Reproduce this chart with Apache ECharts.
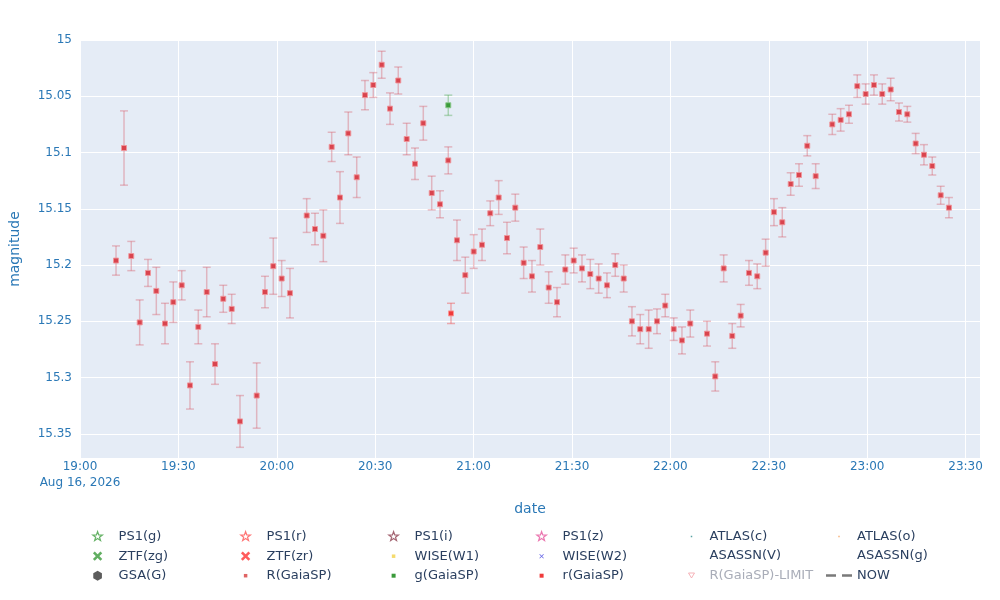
<!DOCTYPE html>
<html>
<head>
<meta charset="utf-8">
<title>light curve</title>
<script src="https://cdn.jsdelivr.net/npm/echarts@6/dist/echarts.min.js"></script>
<style>
  html, body { margin: 0; padding: 0; background: #fff; }
  #chart { width: 1000px; height: 600px; }
</style>
</head>
<body>
<div id="chart"></div>
<script>
// R(GaiaSP) photometry, times on 2026-08-16 (UT)
const rTimes = [
  '19:10:59', '19:13:25', '19:15:38', '19:18:12', '19:20:44', '19:23:16', '19:25:55',
  '19:28:27', '19:31:01', '19:33:32', '19:36:04', '19:38:38', '19:41:10', '19:43:41',
  '19:46:15', '19:48:47', '19:53:52', '19:56:24', '19:58:56', '20:01:29', '20:04:01',
  '20:09:07', '20:11:39', '20:14:11', '20:16:44', '20:19:16', '20:21:48', '20:24:22',
  '20:26:53', '20:29:25', '20:31:59', '20:34:31', '20:37:02', '20:39:36', '20:42:08',
  '20:44:40', '20:47:14', '20:49:46', '20:52:17', '20:54:56', '20:57:28', '21:00:02',
  '21:02:34', '21:05:05', '21:07:39',
  '21:10:11', '21:12:43', '21:15:16', '21:17:48', '21:20:20', '21:22:54', '21:25:26',
  '21:27:58', '21:30:31', '21:33:03', '21:35:35', '21:38:08', '21:40:40', '21:43:12',
  '21:45:46', '21:48:17', '21:50:49', '21:53:23', '21:55:55', '21:58:26', '22:01:01',
  '22:03:32', '22:06:04', '22:11:10', '22:13:41', '22:16:15',
  '22:18:52', '22:21:26', '22:23:58', '22:26:29', '22:29:03', '22:31:35', '22:34:07',
  '22:36:41', '22:39:13', '22:41:44', '22:44:18', '22:49:22', '22:51:55', '22:54:27',
  '22:56:59', '22:59:32', '23:02:04', '23:04:36', '23:07:10', '23:09:42', '23:12:14',
  '23:14:47', '23:17:19', '23:19:51', '23:22:25', '23:24:56'
];
const rMags = [
  15.196, 15.096, 15.192, 15.251, 15.207, 15.223, 15.252,
  15.233, 15.218, 15.307, 15.255, 15.224, 15.288, 15.230,
  15.239, 15.339, 15.316, 15.224, 15.201, 15.212, 15.225,
  15.156, 15.168, 15.174, 15.095, 15.140, 15.083, 15.122,
  15.049, 15.040, 15.022, 15.061, 15.036, 15.088, 15.110,
  15.074, 15.136, 15.146, 15.107, 15.178, 15.209, 15.188,
  15.182, 15.154, 15.140,
  15.176, 15.149, 15.198, 15.210, 15.184, 15.220, 15.233,
  15.204, 15.196, 15.203, 15.208, 15.212, 15.218, 15.200,
  15.212, 15.250, 15.257, 15.257, 15.250, 15.236, 15.257,
  15.267, 15.252, 15.261, 15.299, 15.203,
  15.263, 15.245, 15.207, 15.210, 15.189, 15.153, 15.162,
  15.128, 15.120, 15.094, 15.121, 15.075, 15.071, 15.066,
  15.041, 15.048, 15.040, 15.048, 15.044, 15.064, 15.066,
  15.092, 15.102, 15.112, 15.138, 15.149
];
const rErrs = [
  0.013, 0.033, 0.013, 0.020, 0.012, 0.021, 0.018,
  0.018, 0.013, 0.021, 0.015, 0.022, 0.018, 0.012,
  0.013, 0.023, 0.029, 0.014, 0.025, 0.016, 0.022,
  0.015, 0.014, 0.023, 0.013, 0.023, 0.019, 0.018,
  0.013, 0.011, 0.012, 0.014, 0.012, 0.014, 0.014,
  0.015, 0.015, 0.012, 0.012, 0.018, 0.016, 0.015,
  0.014, 0.011, 0.015,
  0.014, 0.012, 0.014, 0.014, 0.016, 0.014, 0.013,
  0.013, 0.011, 0.012, 0.013, 0.013, 0.011, 0.010,
  0.012, 0.013, 0.013, 0.017, 0.011, 0.010, 0.010,
  0.012, 0.012, 0.011, 0.013, 0.012,
  0.011, 0.010, 0.011, 0.011, 0.012, 0.012, 0.013,
  0.010, 0.010, 0.009, 0.011, 0.009, 0.010, 0.008,
  0.010, 0.009, 0.009, 0.009, 0.010, 0.008, 0.007,
  0.009, 0.009, 0.008, 0.008, 0.009
];

// g(GaiaSP) and r(GaiaSP): one point each
const gTimes = ['20:52:17'];
const gMags = [15.058];
const gErrs = [0.009];
const rsTimes = ['20:53:07'];
const rsMags = [15.243];
const rsErrs = [0.009];

const xStart = '19:00:00';
const xEnd = '23:34:24';
const dateLabel = 'Aug 16, 2026';

// legend columns, top to bottom
const legendCols = [
  ['PS1(g)', 'ZTF(zg)', 'GSA(G)'],
  ['PS1(r)', 'ZTF(zr)', 'R(GaiaSP)'],
  ['PS1(i)', 'WISE(W1)', 'g(GaiaSP)'],
  ['PS1(z)', 'WISE(W2)', 'r(GaiaSP)'],
  ['ATLAS(c)', 'ASASSN(V)', 'R(GaiaSP)-LIMIT'],
  ['ATLAS(o)', 'ASASSN(g)', 'NOW']
];

function toMs(t) {
  const [h, m, s] = t.split(':').map(Number);
  return Date.UTC(2026, 7, 16, h, m, s);
}

function pad(n) {
  return n < 10 ? '0' + n : '' + n;
}

// icons drawn in a 24x24 box (the leading moves keep the box size)
const BOX = 'path://M0,0M24,24';
const STAR = BOX + 'M12,2L14.35,8.76L21.51,8.91L15.8,13.24L17.88,20.09L12,16L6.12,20.09L8.2,13.24L2.49,8.91L9.65,8.76Z';
const XBIG = BOX + 'M6.34,2.66L21.34,17.66L17.66,21.34L2.66,6.34Z' +
  'M17.66,2.66L21.34,6.34L6.34,21.34L2.66,17.66Z';
const XSMALL = BOX + 'M8.5,7.5L12,11L15.5,7.5L16.5,8.5L13,12L16.5,15.5L15.5,16.5L12,13L8.5,16.5L7.5,15.5L11,12L7.5,8.5Z';
const HEX = BOX + 'M12,2L20.66,7L20.66,17L12,22L3.34,17L3.34,7Z';
const SQ_SMALL = BOX + 'M8.5,8.5h7v7h-7Z';
const SQ = BOX + 'M8,8h8v8h-8Z';
const DOT = BOX + 'M10.5,10.5h3v3h-3Z';
const TRI = BOX + 'M6,7L18,7L12,17Z';
const DASH = 'path://M0,0h10v2.5H0ZM16,0h10v2.5h-10Z';

const legendStyles = {
  'PS1(g)': { icon: STAR, itemStyle: { color: 'transparent', borderColor: '#3d9e3d', borderWidth: 1.2 } },
  'PS1(r)': { icon: STAR, itemStyle: { color: 'transparent', borderColor: '#ff5050', borderWidth: 1.2 } },
  'PS1(i)': { icon: STAR, itemStyle: { color: 'transparent', borderColor: '#8c3d4d', borderWidth: 1.2 } },
  'PS1(z)': { icon: STAR, itemStyle: { color: 'transparent', borderColor: '#e6559c', borderWidth: 1.2 } },
  'ZTF(zg)': { icon: XBIG, itemStyle: { color: '#3a9a3a' } },
  'ZTF(zr)': { icon: XBIG, itemStyle: { color: '#ff3333' } },
  'WISE(W1)': { icon: SQ_SMALL, itemStyle: { color: '#f2d24a' } },
  'WISE(W2)': { icon: XSMALL, itemStyle: { color: '#3b3be0' } },
  'GSA(G)': { icon: HEX, itemStyle: { color: '#333333' } },
  'R(GaiaSP)': { icon: SQ_SMALL, itemStyle: { color: '#e06464' } },
  'g(GaiaSP)': { icon: SQ, itemStyle: { color: '#3a9a3a' } },
  'r(GaiaSP)': { icon: SQ, itemStyle: { color: '#f03a3a' } },
  'ATLAS(c)': { icon: DOT, itemStyle: { color: '#2f8c8c' } },
  'ATLAS(o)': { icon: DOT, itemStyle: { color: '#f7a35c' } },
  'ASASSN(V)': { icon: DOT, itemStyle: { color: 'transparent' } },
  'ASASSN(g)': { icon: DOT, itemStyle: { color: 'transparent' } },
  'R(GaiaSP)-LIMIT': {
    icon: TRI,
    itemStyle: { color: 'transparent', borderColor: '#f4a0a8', borderWidth: 1 },
    textStyle: { color: '#a9adb8' }
  },
  'NOW': { icon: DASH, itemStyle: { color: '#7a7a7a' } }
};

const colLeft = [86, 234, 382, 530, 680, 821];
const colWidth = [32, 32, 32, 32, 26, 26];

const legends = legendCols.map((names, i) => ({
  orient: 'vertical',
  left: colLeft[i],
  top: 525,
  itemWidth: colWidth[i],
  itemHeight: 12,
  itemGap: 6.5,
  symbolKeepAspect: true,
  selectedMode: false,
  textStyle: { fontFamily: 'DejaVu Sans', fontSize: 13, color: '#2a3f5f', lineHeight: 12 },
  data: names.map((n) => Object.assign({ name: n }, legendStyles[n]))
}));

function errorBars(name, times, mags, errs, color) {
  return {
    name: name,
    type: 'custom',
    z: 2,
    silent: true,
    data: times.map((t, i) => [toMs(t), mags[i] - errs[i], mags[i] + errs[i]]),
    encode: { x: 0, y: [1, 2] },
    renderItem: (params, api) => {
      const top = api.coord([api.value(0), api.value(1)]);
      const bot = api.coord([api.value(0), api.value(2)]);
      const hw = 4;
      const style = { stroke: color, lineWidth: 1.5 };
      return {
        type: 'group',
        children: [
          { type: 'line', shape: { x1: top[0], y1: top[1], x2: bot[0], y2: bot[1] }, style: style },
          { type: 'line', shape: { x1: top[0] - hw, y1: top[1], x2: top[0] + hw, y2: top[1] }, style: style },
          { type: 'line', shape: { x1: bot[0] - hw, y1: bot[1], x2: bot[0] + hw, y2: bot[1] }, style: style }
        ]
      };
    }
  };
}

function markers(name, times, mags, color, border, size) {
  return {
    name: name,
    type: 'scatter',
    z: 3,
    symbol: 'rect',
    symbolSize: size,
    itemStyle: { color: color, borderColor: border, borderWidth: 1, opacity: 1 },
    data: times.map((t, i) => [toMs(t), mags[i]])
  };
}

const series = [
  errorBars('R(GaiaSP)', rTimes, rMags, rErrs, 'rgba(214,84,96,0.36)'),
  markers('R(GaiaSP)', rTimes, rMags, '#d9444e', 'rgba(240,150,155,0.9)', 5),
  errorBars('g(GaiaSP)', gTimes, gMags, gErrs, 'rgba(60,160,60,0.35)'),
  markers('g(GaiaSP)', gTimes, gMags, '#3a9a3a', 'rgba(140,200,140,0.9)', 5),
  errorBars('r(GaiaSP)', rsTimes, rsMags, rsErrs, 'rgba(240,70,70,0.4)'),
  markers('r(GaiaSP)', rsTimes, rsMags, '#f03a3a', 'rgba(250,150,150,0.9)', 5)
];

// bands with nothing in this time window
legendCols.flat().forEach((n) => {
  if (['R(GaiaSP)', 'g(GaiaSP)', 'r(GaiaSP)', 'NOW'].includes(n)) return;
  series.push({ name: n, type: 'scatter', data: [], itemStyle: legendStyles[n].itemStyle });
});
series.push({ name: 'NOW', type: 'line', data: [], lineStyle: { type: 'dashed', color: '#7a7a7a' } });

const axisBlue = '#2a78b6';

const chart = echarts.init(document.getElementById('chart'));

chart.setOption({
  animation: false,
  textStyle: { fontFamily: 'DejaVu Sans' },
  legend: legends,
  grid: {
    left: 80,
    right: 20,
    top: 40,
    bottom: 142,
    show: true,
    backgroundColor: '#e5ecf6',
    borderWidth: 0
  },
  xAxis: {
    type: 'value',
    min: toMs(xStart),
    max: toMs(xEnd),
    interval: 30 * 60 * 1000,
    name: 'date',
    nameLocation: 'middle',
    nameGap: 44,
    nameTextStyle: { color: axisBlue, fontSize: 14, fontFamily: 'DejaVu Sans' },
    axisLine: { show: false },
    axisTick: { show: false },
    splitLine: { show: true, lineStyle: { color: '#ffffff', width: 1 } },
    axisLabel: {
      color: axisBlue,
      fontSize: 12,
      lineHeight: 16,
      margin: 1,
      showMaxLabel: false,
      formatter: (v) => {
        const d = new Date(v);
        const s = pad(d.getUTCHours()) + ':' + pad(d.getUTCMinutes());
        return v === toMs(xStart) ? s + '\n' + dateLabel : s;
      }
    }
  },
  yAxis: {
    type: 'value',
    inverse: true,
    min: 15,
    max: 15.3715,
    interval: 0.05,
    name: 'magnitude',
    nameLocation: 'middle',
    nameGap: 58,
    nameTextStyle: { color: axisBlue, fontSize: 14, fontFamily: 'DejaVu Sans' },
    axisLine: { show: false },
    axisTick: { show: false },
    splitLine: { show: true, lineStyle: { color: '#ffffff', width: 1 } },
    axisLabel: { color: axisBlue, fontSize: 12, margin: 8, showMaxLabel: false }
  },
  series: series
});

window.addEventListener('resize', () => {
  chart.resize();
});
</script>
</body>
</html>
